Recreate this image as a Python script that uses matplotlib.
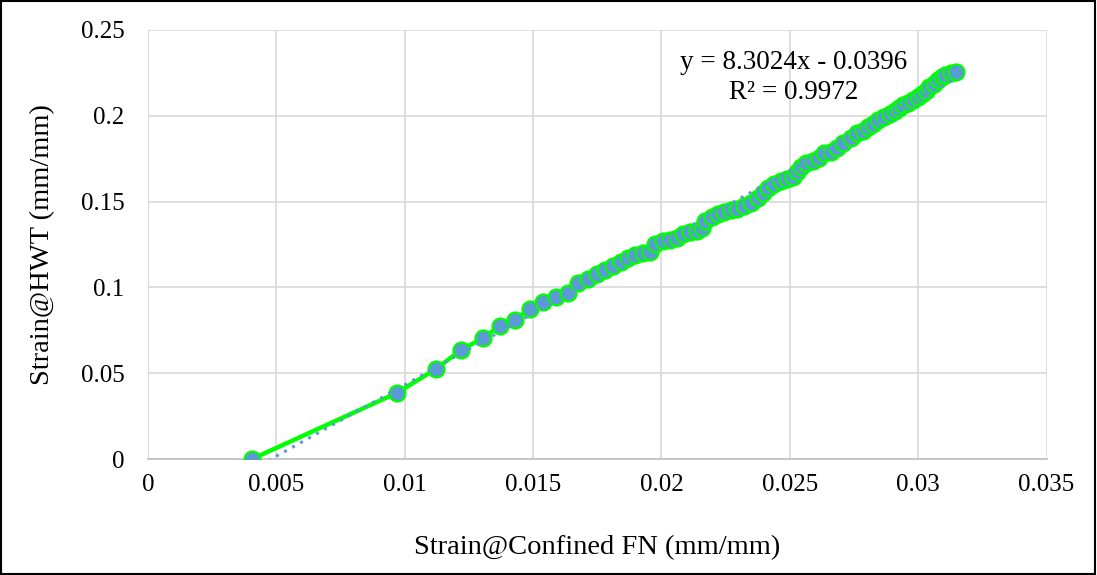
import numpy as np
import matplotlib
matplotlib.use("Agg")
import matplotlib.pyplot as plt

# 字体设置（Times 风格）
plt.rcParams['font.family'] = ['Liberation Serif', 'DejaVu Serif']

# 数据：约束 FN 应变 与 HWT 应变
strain_fn = [0.00405, 0.00969, 0.01121, 0.01219, 0.01304, 0.0137, 0.01429, 0.01487,
             0.01538, 0.01588, 0.01635, 0.01674, 0.01713, 0.01748, 0.01779, 0.0181,
             0.01841, 0.01869, 0.01896, 0.01927, 0.01954, 0.01974, 0.02005, 0.02032,
             0.0206, 0.02083, 0.0211, 0.02137, 0.02157, 0.02168, 0.02196, 0.0222,
             0.02242, 0.0227, 0.02293, 0.0232, 0.02348, 0.02375, 0.02394, 0.02414,
             0.02437, 0.02464, 0.02488, 0.02511, 0.02527, 0.02542, 0.02562, 0.02589,
             0.02612, 0.02632, 0.02659, 0.02682, 0.02709, 0.02737, 0.0276, 0.02784,
             0.02803, 0.02823, 0.02842, 0.02865, 0.02889, 0.02908, 0.02924, 0.02939,
             0.02959, 0.02978, 0.02998, 0.03013, 0.03029, 0.03044, 0.0306, 0.03076,
             0.03091, 0.03103, 0.03126, 0.03146]
strain_hwt = [0.0, 0.0385, 0.0524, 0.0635, 0.0705, 0.0775, 0.081, 0.0874,
              0.0915, 0.0944, 0.0967, 0.1026, 0.1049, 0.1078, 0.1101, 0.1125,
              0.1148, 0.1171, 0.1189, 0.12, 0.1205, 0.1253, 0.127, 0.1276,
              0.1288, 0.1311, 0.1323, 0.1329, 0.1346, 0.1387, 0.141, 0.1428,
              0.144, 0.1451, 0.1457, 0.1474, 0.1492, 0.1521, 0.155, 0.1579,
              0.1603, 0.162, 0.1632, 0.1643, 0.1672, 0.1702, 0.1725, 0.1737,
              0.1754, 0.1783, 0.1789, 0.1812, 0.1841, 0.1871, 0.19, 0.1911,
              0.1935, 0.1952, 0.1976, 0.1993, 0.201, 0.2028, 0.2045, 0.2063,
              0.2075, 0.2092, 0.211, 0.2127, 0.2145, 0.2168, 0.2185, 0.2209,
              0.2226, 0.2238, 0.225, 0.2256]

x_ticks = [0, 0.005, 0.01, 0.015, 0.02, 0.025, 0.03, 0.035]
x_tick_labels = ['0', '0.005', '0.01', '0.015', '0.02', '0.025', '0.03', '0.035']
y_ticks = [0, 0.05, 0.1, 0.15, 0.2, 0.25]
y_tick_labels = ['0', '0.05', '0.1', '0.15', '0.2', '0.25']
eq_text = 'y = 8.3024x - 0.0396\nR² = 0.9972'

x = np.array(strain_fn)
y = np.array(strain_hwt)

# 线性趋势线
k, b = np.polyfit(x, y, 1)
x_fit = np.array([x.min(), x.max()])
y_fit = k * x_fit + b

fig = plt.figure(figsize=(10.97, 5.75), dpi=100)
ax = fig.add_axes([0.135, 0.2017, 0.819, 0.7463])

ax.plot(x, y, color='#00FF00', linewidth=3.2, zorder=2)
ax.plot(x, y, linestyle='none', marker='o', markersize=11.5,
        markerfacecolor='#5B9BD5', markeredgecolor='#00FF00', markeredgewidth=1.6, zorder=3)
ax.plot(x_fit, y_fit, color='#5B9BD5', linestyle=(0, (1, 2)), linewidth=2.2, zorder=4)

ax.set_xlim(0, 0.035)
ax.set_ylim(0, 0.25)
ax.set_xticks(x_ticks)
ax.set_xticklabels(x_tick_labels)
ax.set_yticks(y_ticks)
ax.set_yticklabels(y_tick_labels)
ax.tick_params(axis='both', length=0, labelsize=18)
ax.tick_params(axis='y', pad=17)
ax.tick_params(axis='x', pad=11)

ax.grid(True, color='#D9D9D9', linewidth=1.2)
ax.set_axisbelow(True)
for s in ['top', 'right']:
    ax.spines[s].set_visible(False)
ax.spines['left'].set_color('#D9D9D9')
ax.spines['bottom'].set_color('#BFBFBF')
ax.spines['bottom'].set_linewidth(1.2)

ax.set_xlabel('Strain@Confined FN (mm/mm)', fontsize=20.5, va='center')
ax.set_ylabel('Strain@HWT (mm/mm)', fontsize=20.5, va='center')
ax.xaxis.set_label_coords(0.5, -0.207)
ax.yaxis.set_label_coords(-0.117, 0.5)

ax.text(0.02515, 0.2222, eq_text, ha='center', va='center', fontsize=19.5, linespacing=1.3)

# 外边框
fig.patches.append(plt.Rectangle((0.001, 0.002), 0.997, 0.996, transform=fig.transFigure,
                                 fill=False, edgecolor='black', linewidth=1.5))

fig.savefig('out.png', dpi=100)
